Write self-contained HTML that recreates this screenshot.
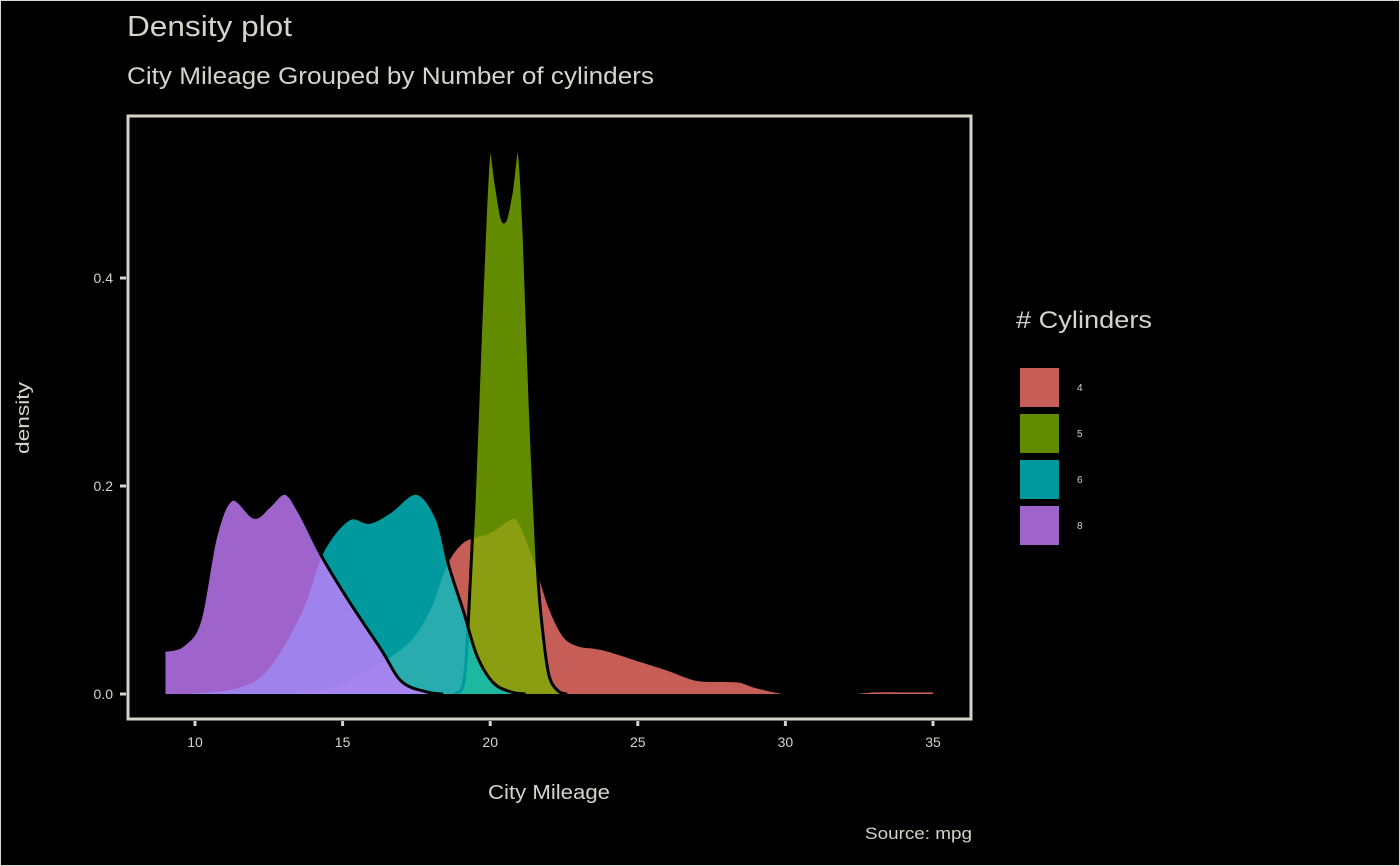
<!DOCTYPE html>
<html><head><meta charset="utf-8"><style>
html,body{margin:0;padding:0;background:#000;}
svg{display:block;font-family:"Liberation Sans","DejaVu Sans",sans-serif;}
</style></head><body>
<svg width="1400" height="866" viewBox="0 0 1400 866">
<rect x="0.5" y="0.5" width="1399" height="865" fill="#000" stroke="#d8d8d0" stroke-width="1"/>
<text x="127" y="36" fill="#d6d3c8" font-size="29" textLength="165" lengthAdjust="spacingAndGlyphs">Density plot</text>
<text x="127" y="84" fill="#d6d3c8" font-size="24" textLength="527" lengthAdjust="spacingAndGlyphs">City Mileage Grouped by Number of cylinders</text>
<g id="marks"></g>
<rect x="128" y="116" width="843" height="603" fill="none" stroke="#d6d3c8" stroke-width="3"/>
<g id="axes"></g>
<text x="549" y="799" fill="#d6d3c8" font-size="20" text-anchor="middle" textLength="122" lengthAdjust="spacingAndGlyphs">City Mileage</text>
<text transform="translate(29,418) rotate(-90)" fill="#d6d3c8" font-size="18" text-anchor="middle" textLength="72" lengthAdjust="spacingAndGlyphs">density</text>
<text x="972" y="839" fill="#d6d3c8" font-size="17" text-anchor="end" textLength="107" lengthAdjust="spacingAndGlyphs">Source: mpg</text>
<text x="1016" y="328" fill="#d6d3c8" font-size="24" textLength="136" lengthAdjust="spacingAndGlyphs"># Cylinders</text>
<g id="legend"></g>
</svg>
<script>
const groups = ["4","5","6","8"];
const colors = ["#F8766D","#7CAE00","#00BFC4","#C77CFF"];
const mpg4 = [12.8,14,15,16,17,17.5,18,18.5,19,19.5,20,20.7,21,21.5,22,22.5,23,23.5,24,25,26,27,28,28.5,29,30,31,32,33,34,35];
const den4 = [0,0.004,0.011,0.026,0.045,0.06,0.086,0.125,0.145,0.152,0.156,0.169,0.165,0.13,0.085,0.056,0.047,0.045,0.042,0.033,0.024,0.014,0.013,0.012,0.007,0.001,0,0.0005,0.003,0.003,0.003];
const mpg5 = [18.8,19.1,19.25,19.45,19.65,19.85,20.0,20.2,20.45,20.7,20.95,21.15,21.35,21.6,21.8,22.0,22.3,22.6];
const den5 = [0,0.01,0.065,0.18,0.33,0.47,0.526,0.49,0.454,0.48,0.526,0.44,0.28,0.12,0.055,0.017,0.003,0];
const mpg6 = [9.5,10,11.3,12.4,13.6,14.3,15.2,15.9,16.6,17.5,18.2,18.6,19.1,19.55,20.1,20.7,21.2];
const den6 = [0,0.002,0.006,0.023,0.08,0.136,0.168,0.165,0.175,0.193,0.168,0.123,0.079,0.037,0.011,0.002,0];
const mpg8 = [9,9.6,10.17,10.7,11.25,12.0,12.5,13.05,13.55,14.3,15.2,16.3,17.0,17.85,18.4];
const den8 = [0.042,0.047,0.071,0.151,0.187,0.17,0.18,0.193,0.174,0.132,0.09,0.043,0.012,0.002,0];
const xTicks = [10,15,20,25,30,35];
const yTicks = [0,0.2,0.4];
const yTickLabels = ["0.0","0.2","0.4"];

const NS="http://www.w3.org/2000/svg";
function xs(v){return 195+(v-10)*(933-195)/25;}
function ys(v){return 694-v*1040;}
function smooth(pts){
  let d="M"+pts[0][0]+","+pts[0][1];
  for(let i=0;i<pts.length-1;i++){
    const p0=pts[Math.max(0,i-1)],p1=pts[i],p2=pts[i+1],p3=pts[Math.min(pts.length-1,i+2)];
    const c1=[p1[0]+(p2[0]-p0[0])/6,p1[1]+(p2[1]-p0[1])/6];
    const c2=[p2[0]-(p3[0]-p1[0])/6,p2[1]-(p3[1]-p1[1])/6];
    c1[1]=Math.min(c1[1],ys(0));c2[1]=Math.min(c2[1],ys(0));
    d+=" C"+c1[0]+","+c1[1]+" "+c2[0]+","+c2[1]+" "+p2[0]+","+p2[1];
  }
  return d;
}
const marks=document.getElementById("marks");
const series=[[mpg4,den4],[mpg5,den5],[mpg6,den6],[mpg8,den8]];
series.forEach((s,gi)=>{
  const pts=s[0].map((x,i)=>[xs(x),ys(s[1][i])]);
  const curve=smooth(pts);
  const d=curve+" L"+xs(s[0][s[0].length-1])+","+ys(0)+" L"+xs(s[0][0])+","+ys(0)+" Z";
  const p=document.createElementNS(NS,"path");
  p.setAttribute("d",d);
  p.setAttribute("fill",colors[gi]);
  p.setAttribute("fill-opacity","0.8");
  p.setAttribute("stroke","none");
  
  
  marks.appendChild(p);
  const l=document.createElementNS(NS,"path");
  l.setAttribute("d",curve);
  l.setAttribute("fill","none");
  l.setAttribute("stroke","#000");
  l.setAttribute("stroke-width","3");
  
  
  marks.appendChild(l);
});
const axes=document.getElementById("axes");
xTicks.forEach(t=>{
  const ln=document.createElementNS(NS,"line");
  ln.setAttribute("x1",xs(t));ln.setAttribute("x2",xs(t));ln.setAttribute("y1",721);ln.setAttribute("y2",726);
  ln.setAttribute("stroke","#d6d3c8");ln.setAttribute("stroke-width","3");
  
  
  axes.appendChild(ln);
  const tx=document.createElementNS(NS,"text");
  tx.setAttribute("x",xs(t));tx.setAttribute("y",747);tx.setAttribute("text-anchor","middle");
  tx.setAttribute("fill","#d6d3c8");tx.setAttribute("font-size","14");
  tx.textContent=t;
  
  
  axes.appendChild(tx);
});
yTicks.forEach((t,i)=>{
  const ln=document.createElementNS(NS,"line");
  ln.setAttribute("x1",120);ln.setAttribute("x2",126);ln.setAttribute("y1",ys(t));ln.setAttribute("y2",ys(t));
  ln.setAttribute("stroke","#d6d3c8");ln.setAttribute("stroke-width","3");
  
  
  axes.appendChild(ln);
  const tx=document.createElementNS(NS,"text");
  tx.setAttribute("x",113);tx.setAttribute("y",ys(t)+5);tx.setAttribute("text-anchor","end");
  tx.setAttribute("fill","#d6d3c8");tx.setAttribute("font-size","14");
  tx.textContent=yTickLabels[i];
  
  
  axes.appendChild(tx);
});
const legend=document.getElementById("legend");
groups.forEach((g,i)=>{
  const r=document.createElementNS(NS,"rect");
  r.setAttribute("x",1020);r.setAttribute("y",368+i*46);r.setAttribute("width",39);r.setAttribute("height",39);
  r.setAttribute("fill",colors[i]);r.setAttribute("fill-opacity","0.8");
  
  
  legend.appendChild(r);
  const tx=document.createElementNS(NS,"text");
  tx.setAttribute("x",1077);tx.setAttribute("y",391+i*46);
  tx.setAttribute("fill","#d6d3c8");tx.setAttribute("font-size","10");
  tx.textContent=g;
  
  
  legend.appendChild(tx);
});
</script>
</body></html>
